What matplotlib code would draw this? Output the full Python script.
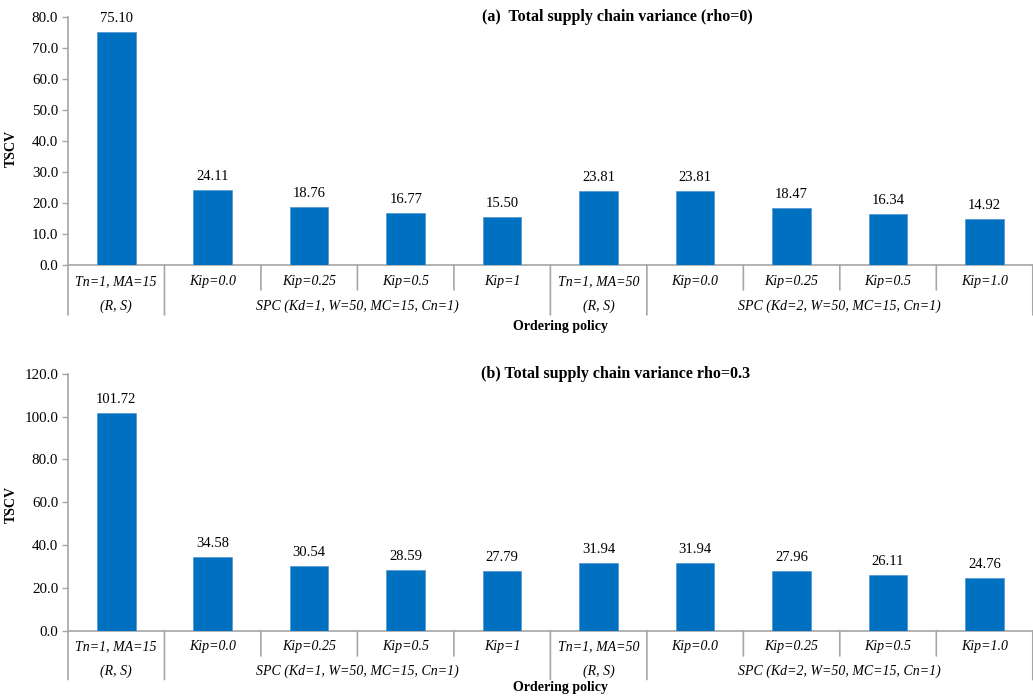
import matplotlib
matplotlib.use('Agg')
import matplotlib.pyplot as plt

# valores
policy_labels = ['Tn=1, MA=15', 'Kip=0.0', 'Kip=0.25', 'Kip=0.5', 'Kip=1',
                 'Tn=1, MA=50', 'Kip=0.0', 'Kip=0.25', 'Kip=0.5', 'Kip=1.0']
group_labels = ['(R, S)', 'SPC (Kd=1, W=50, MC=15, Cn=1)',
                '(R, S)', 'SPC (Kd=2, W=50, MC=15, Cn=1)']
group_spans = [(0, 0), (1, 4), (5, 5), (6, 9)]
tscv_rho0 = [75.10, 24.11, 18.76, 16.77, 15.50, 23.81, 23.81, 18.47, 16.34, 14.92]
tscv_rho03 = [101.72, 34.58, 30.54, 28.59, 27.79, 31.94, 31.94, 27.96, 26.11, 24.76]

plt.rcParams['font.family'] = 'Liberation Serif'
BAR_COLOR = '#0070C0'
AXIS_COLOR = '#A6A6A6'
FS = 10


def draw_panel(ax, values, ymax, ystep, title, title_x, row1, row2, short_len,
               long_len, xlabel_off, ylabel_y):
    x = range(len(values))
    ax.bar(x, values, width=0.4, color=BAR_COLOR, edgecolor='#5B9BD5',
           linewidth=0.6, zorder=3)
    for xi, v in zip(x, values):
        ax.annotate(f'{v:.2f}', xy=(xi, v), xytext=(0, 5),
                    textcoords='offset points', ha='center', va='bottom',
                    fontsize=FS + 0.5)

    ax.set_xlim(-0.5, len(values) - 0.5)
    ax.set_ylim(0, ymax)
    ax.set_yticks([i * ystep for i in range(int(ymax / ystep) + 1)])
    ax.yaxis.set_major_formatter(plt.FuncFormatter(lambda v, p: f'{v:.1f}'))
    ax.tick_params(axis='y', labelsize=FS + 0.8, length=4, color=AXIS_COLOR,
                   width=1, pad=3)
    ax.set_xticks([])

    for s in ['top', 'right']:
        ax.spines[s].set_visible(False)
    for s in ['left', 'bottom']:
        ax.spines[s].set_color(AXIS_COLOR)
        ax.spines[s].set_linewidth(1.2)

    # etiquetas de categorias (dos niveles)
    for xi, lab in enumerate(policy_labels):
        ax.annotate(lab, xy=(xi, 0), xycoords=('data', 'axes fraction'),
                    xytext=(0, -row1), textcoords='offset points',
                    ha='center', va='center', fontsize=FS, style='italic')
    for lab, (a, b) in zip(group_labels, group_spans):
        ax.annotate(lab, xy=((a + b) / 2, 0), xycoords=('data', 'axes fraction'),
                    xytext=(0, -row2), textcoords='offset points',
                    ha='center', va='center', fontsize=FS, style='italic')

    # separadores
    long_pos = [-0.5] + [b + 0.5 for (a, b) in group_spans]
    for i in range(len(values) + 1):
        pos = i - 0.5
        ln = long_len if pos in long_pos else short_len
        ax.annotate('', xy=(pos, 0), xycoords=('data', 'axes fraction'),
                    xytext=(0, -ln), textcoords='offset points',
                    arrowprops=dict(arrowstyle='-', color=AXIS_COLOR, lw=1.2,
                                    shrinkA=0, shrinkB=0))

    ax.annotate('Ordering policy', xy=(0.51, 0), xycoords='axes fraction',
                xytext=(0, -xlabel_off), textcoords='offset points',
                ha='center', va='center', fontsize=FS, fontweight='bold')
    ax.set_ylabel('TSCV', fontsize=FS, fontweight='bold')
    ax.yaxis.set_label_coords(-0.052, ylabel_y)
    ax.text(title_x, 1.0, title, transform=ax.transAxes, ha='center',
            va='center', fontsize=11.5, fontweight='bold')


fig = plt.figure(figsize=(10.33, 6.99), dpi=100)
ax1 = fig.add_axes([0.0658, 0.621, 0.934, 0.355])
ax2 = fig.add_axes([0.0658, 0.0973, 0.934, 0.368])

draw_panel(ax1, tscv_rho0, 80, 10, '(a)  Total supply chain variance (rho=0)',
           0.569, 12, 29.5, 18, 36, 44, 0.47)
draw_panel(ax2, tscv_rho03, 120, 20, '(b) Total supply chain variance rho=0.3',
           0.567, 11.5, 29, 18, 35, 41, 0.49)

fig.savefig('out.png', dpi=100)
plt.close(fig)
